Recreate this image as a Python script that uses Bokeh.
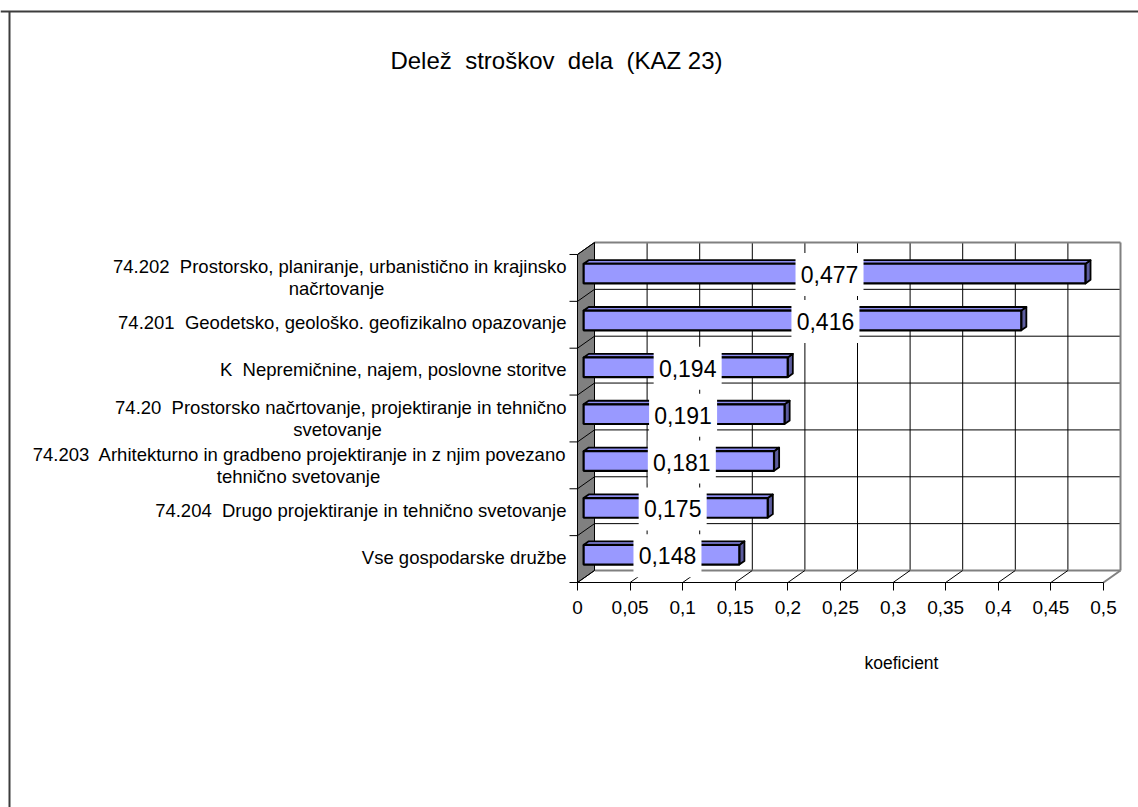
from bokeh.plotting import figure
from bokeh.models import LinearAxis, FixedTicker, Range1d, ColumnDataSource
from bokeh.core.properties import value
from bokeh.embed import file_html
from bokeh.resources import INLINE

# ---------------- data ----------------
TITLE = "Delež  stroškov  dela  (KAZ 23)"
AXIS_TITLE = "koeficient"
# categories listed bottom -> top
CATEGORY_LINE1 = [
    "Vse gospodarske družbe",
    "74.204  Drugo projektiranje in tehnično svetovanje",
    "74.203  Arhitekturno in gradbeno projektiranje in z njim povezano",
    "74.20  Prostorsko načrtovanje, projektiranje in tehnično",
    "K  Nepremičnine, najem, poslovne storitve",
    "74.201  Geodetsko, geološko. geofizikalno opazovanje",
    "74.202  Prostorsko, planiranje, urbanistično in krajinsko",
]
CATEGORY_LINE2 = ["", "", "tehnično svetovanje", "svetovanje", "", "", "načrtovanje"]
VALUES = [0.148, 0.175, 0.181, 0.191, 0.194, 0.416, 0.477]
VALUE_LABELS = ["0,148", "0,175", "0,181", "0,191", "0,194", "0,416", "0,477"]
TICK_VALUES = [0.0, 0.05, 0.1, 0.15, 0.2, 0.25, 0.3, 0.35, 0.4, 0.45, 0.5]
TICK_LABELS = ["0", "0,05", "0,1", "0,15", "0,2", "0,25", "0,3", "0,35", "0,4", "0,45", "0,5"]


def keep_spaces(s):
    # SVG collapses runs of spaces; keep the double spaces of the original
    return s.replace("  ", "\u00a0 ")


# ---------------- layout constants ----------------
W, H = 1138, 807
PX_X = 1052.0      # screen px per value unit
PX_Y = 46.86       # screen px per category
ORIGIN_X = 577.0   # px of value 0
ORIGIN_Y = 582.0   # px (from top) of category baseline
DX = 17.0 / PX_X   # 3D depth offset (x)
DY = 12.0 / PX_Y   # 3D depth offset (y)
N = len(VALUES)
XMAX = TICK_VALUES[-1]
FONT = value("Liberation Sans")
# horizontal nudges (px) of the value-label boxes, as placed in the original chart
LABEL_NUDGE_PX = [6, -3, 3, -1, 2, 23, -5]

x_start = -ORIGIN_X / PX_X
x_end = (W - ORIGIN_X) / PX_X
y_start = -(H - ORIGIN_Y) / PX_Y
y_end = ORIGIN_Y / PX_Y


def sx(px):
    return x_start + px / PX_X


def sy(px):
    return y_end - px / PX_Y


p = figure(width=W, height=H, x_range=Range1d(x_start, x_end), y_range=Range1d(y_start, y_end),
           x_axis_type=None, y_axis_type=None, output_backend="svg", toolbar_location=None,
           min_border=0, outline_line_color=None, background_fill_color="white",
           border_fill_color="white")
p.grid.visible = False

# ---------------- outer chart frame ----------------
p.segment(x0=[sx(9), x_start], y0=[sy(11), sy(11)], x1=[sx(9), x_end], y1=[y_start, sy(11)],
          line_color="#3c3c3c", line_width=2)

# ---------------- title ----------------
p.text(x=[sx(556)], y=[sy(60)], text=[keep_spaces(TITLE)], text_font=FONT,
       text_font_size="24px", text_align="center", text_baseline="middle", text_color="black")

# ---------------- back wall ----------------
p.quad(left=[DX], right=[XMAX + DX], bottom=[DY], top=[N + DY], fill_color="white", line_color=None)
grid_x = TICK_VALUES[1:-1]
p.segment(x0=[t + DX for t in grid_x], y0=[DY] * len(grid_x), x1=[t + DX for t in grid_x],
          y1=[N + DY] * len(grid_x), line_color="black", line_width=1)
p.segment(x0=[DX] * (N - 1), y0=[k + DY for k in range(1, N)], x1=[XMAX + DX] * (N - 1),
          y1=[k + DY for k in range(1, N)], line_color="black", line_width=1)
p.segment(x0=[DX, XMAX + DX], y0=[N + DY, DY], x1=[XMAX + DX, XMAX + DX], y1=[N + DY, N + DY],
          line_color="#808080", line_width=2)

# ---------------- floor ----------------
p.patch(x=[0, XMAX, XMAX + DX, DX], y=[0, 0, DY, DY], fill_color="white", line_color=None)
p.segment(x0=[DX, XMAX], y0=[DY, 0], x1=[XMAX + DX, XMAX + DX], y1=[DY, DY],
          line_color="#808080", line_width=2)
p.segment(x0=grid_x, y0=[0] * len(grid_x), x1=[t + DX for t in grid_x], y1=[DY] * len(grid_x),
          line_color="black", line_width=1)

# ---------------- left wall ----------------
p.patch(x=[0, 0, DX, DX], y=[0, N, N + DY, DY], fill_color="#808080", line_color="black", line_width=1)
p.segment(x0=[0] * (N + 1), y0=list(range(N + 1)), x1=[DX] * (N + 1),
          y1=[k + DY for k in range(N + 1)], line_color="black", line_width=1)
# category tick marks
p.segment(x0=[-8 / PX_X] * (N + 1), y0=list(range(N + 1)), x1=[0] * (N + 1), y1=list(range(N + 1)),
          line_color="black", line_width=1)

# ---------------- 3D bars ----------------
F = 0.36          # depth position of bar front face
T = 0.3           # bar depth
BH = 0.42         # bar height (category units)
fx, fy = F * DX, F * DY
tx, ty = T * DX, T * DY
centers = [i + 0.5 + fy for i in range(N)]
lefts = [fx] * N
rights = [v + fx for v in VALUES]
bottoms = [c - BH / 2 for c in centers]
tops = [c + BH / 2 for c in centers]

top_xs = [[l, r, r + tx, l + tx] for l, r in zip(lefts, rights)]
top_ys = [[t, t, t + ty, t + ty] for t in tops]
side_xs = [[r, r, r + tx, r + tx] for r in rights]
side_ys = [[b, t, t + ty, b + ty] for b, t in zip(bottoms, tops)]
p.patches(xs=side_xs, ys=side_ys, fill_color="#5c5c9e", line_color="black", line_width=1.8,
          line_join="round")
p.patches(xs=top_xs, ys=top_ys, fill_color="#8d8df0", line_color="black", line_width=1.8,
          line_join="round")
p.quad(left=lefts, right=rights, bottom=bottoms, top=tops, fill_color="#9999ff",
       line_color="black", line_width=2.2)

# ---------------- value labels ----------------
lab = ColumnDataSource(dict(x=[fx + v / 2 + d / PX_X for v, d in zip(VALUES, LABEL_NUDGE_PX)],
                            y=[c - 1 / PX_Y for c in centers], text=VALUE_LABELS))
p.rect(x="x", y="y", width=68, height=43, width_units="screen", height_units="screen",
       fill_color="white", line_color=None, source=lab)
p.text(x="x", y="y", text="text", source=lab, text_font=FONT, text_font_size="23px",
       text_align="center", text_baseline="middle", text_color="black")

# ---------------- category labels ----------------
LX = -11 / PX_X
LINE_GAP = 11 / PX_Y
one_idx = [i for i in range(N) if not CATEGORY_LINE2[i]]
two_idx = [i for i in range(N) if CATEGORY_LINE2[i]]
p.text(x=[LX] * len(one_idx), y=[i + 0.5 + 2 / PX_Y for i in one_idx],
       text=[keep_spaces(CATEGORY_LINE1[i]) for i in one_idx], text_font=FONT,
       text_font_size="18.5px", text_align="right", text_baseline="middle", text_color="black")
p.text(x=[LX] * len(two_idx), y=[i + 0.5 + LINE_GAP for i in two_idx],
       text=[keep_spaces(CATEGORY_LINE1[i]) for i in two_idx], text_font=FONT,
       text_font_size="18.5px", text_align="right", text_baseline="middle", text_color="black")
# second lines are centred under the first lines (half-widths of first lines, px)
HALF_W = {2: 268, 3: 229, 6: 230}
for i in two_idx:
    p.text(x=[LX], y=[i + 0.5 - LINE_GAP], text=[CATEGORY_LINE2[i]], x_offset=-HALF_W[i],
           text_font=FONT, text_font_size="18.5px", text_align="center", text_baseline="middle",
           text_color="black")

# ---------------- value axis ----------------
xaxis = LinearAxis(ticker=FixedTicker(ticks=TICK_VALUES), bounds=(0, XMAX), fixed_location=0,
                   major_label_overrides=dict(zip(TICK_VALUES, TICK_LABELS)),
                   major_label_text_font="Liberation Sans", major_label_text_font_size="19px",
                   major_label_text_color="black", major_label_standoff=10,
                   axis_line_color="black", axis_line_width=1,
                   major_tick_line_color="black", major_tick_out=8, major_tick_in=0,
                   minor_tick_line_color=None)
p.add_layout(xaxis, "below")

# axis title (placed where the original chart has it)
p.text(x=[sx(901)], y=[sy(662)], text=[AXIS_TITLE], text_font=FONT, text_font_size="17.5px",
       text_align="center", text_baseline="middle", text_color="black")

open("out.html", "w").write(file_html(p, INLINE))
